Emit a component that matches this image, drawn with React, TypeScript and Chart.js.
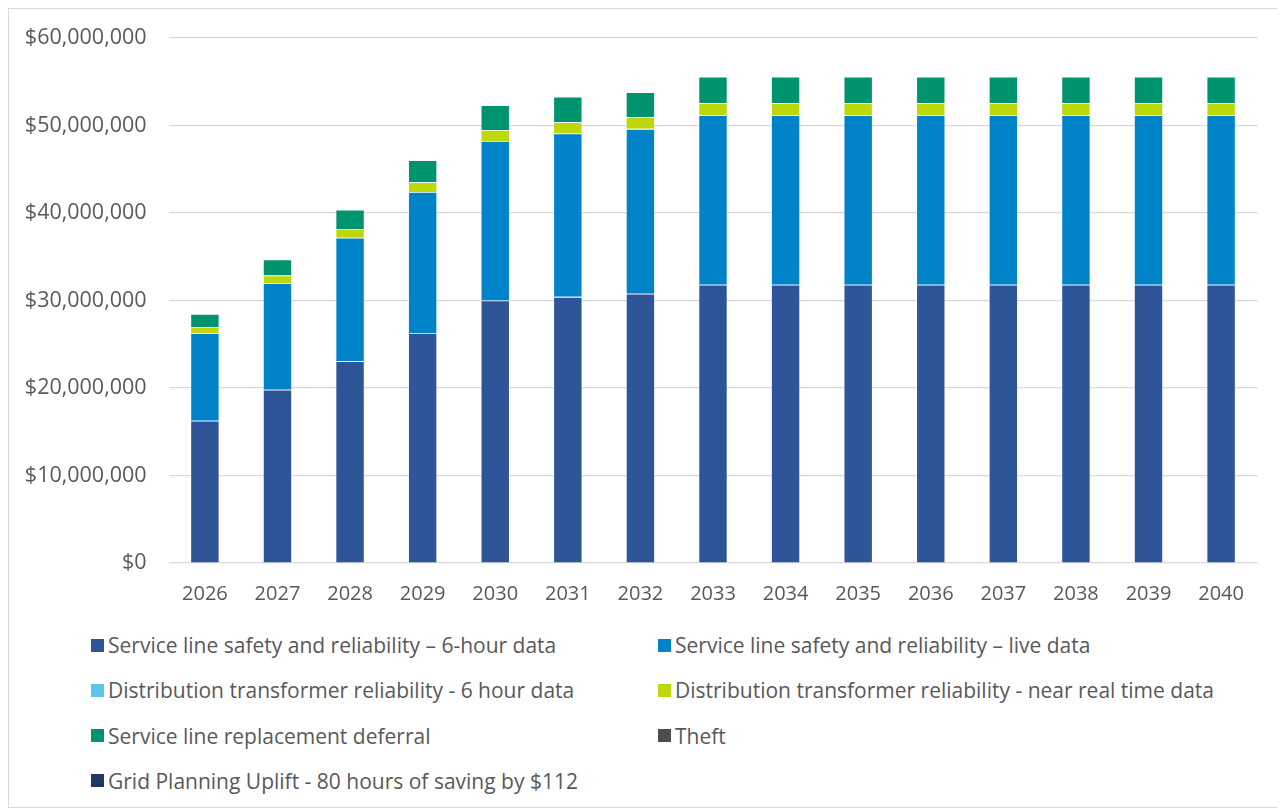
import React, { useEffect, useRef } from "react";
import { Chart, registerables } from "chart.js";

Chart.register(...registerables);

const years = ["2026","2027","2028","2029","2030","2031","2032","2033","2034","2035","2036","2037","2038","2039","2040"];

const serviceLine6h = [16.26, 19.81, 23.05, 26.3, 30.0, 30.42, 30.77, 31.8, 31.8, 31.8, 31.8, 31.8, 31.8, 31.8, 31.8].map(v => v * 1e6);
const serviceLineLive = [10.0, 12.17, 14.13, 16.1, 18.24, 18.66, 18.85, 19.38, 19.38, 19.38, 19.38, 19.38, 19.38, 19.38, 19.38].map(v => v * 1e6);
const transformer6h = [0, 0, 0, 0, 0, 0, 0, 0, 0, 0, 0, 0, 0, 0, 0];
const transformerNRT = [0.69, 0.88, 0.99, 1.11, 1.26, 1.3, 1.34, 1.38, 1.38, 1.38, 1.38, 1.38, 1.38, 1.38, 1.38].map(v => v * 1e6);
const replacementDeferral = [1.52, 1.84, 2.21, 2.52, 2.83, 2.9, 2.86, 3.01, 3.01, 3.01, 3.01, 3.01, 3.01, 3.01, 3.01].map(v => v * 1e6);
const theft = [0, 0, 0, 0, 0, 0, 0, 0, 0, 0, 0, 0, 0, 0, 0];
const gridPlanning = [0, 0, 0, 0, 0, 0, 0, 0, 0, 0, 0, 0, 0, 0, 0];

const seriesLabels = [
  "Service line safety and reliability \u2013 6-hour data",
  "Service line safety and reliability \u2013 live data",
  "Distribution transformer reliability - 6 hour data",
  "Distribution transformer reliability - near real time data",
  "Service line replacement deferral",
  "Theft",
  "Grid Planning Uplift - 80 hours of saving by $112",
];
const seriesColors = ["#2E5597", "#0083C9", "#5BC5EA", "#BCD80A", "#009370", "#4D4D4D", "#1F3864"];
const seriesData = [serviceLine6h, serviceLineLive, transformer6h, transformerNRT, replacementDeferral, theft, gridPlanning];

const FONT = "'Open Sans', sans-serif";
const TEXT = "#595959";

export default function App() {
  const ref = useRef<HTMLCanvasElement | null>(null);

  useEffect(() => {
    if (!ref.current) return;
    const chart = new Chart(ref.current, {
      type: "bar",
      data: {
        labels: years,
        datasets: seriesData.map((d, i) => ({
          label: seriesLabels[i],
          data: d,
          backgroundColor: seriesColors[i],
          borderColor: "rgba(255,255,255,0.35)",
          borderWidth: 0.8,
          categoryPercentage: 1,
          barPercentage: 0.4,
        })),
      },
      options: {
        animation: false,
        responsive: false,
        maintainAspectRatio: false,
        layout: { padding: { left: 0, right: 25.6, top: 29, bottom: 12 } },
        plugins: {
          legend: { display: false },
          tooltip: { enabled: false },
        },
        scales: {
          x: {
            stacked: true,
            grid: { display: false },
            border: { display: false },
            ticks: { color: TEXT, font: { family: FONT, size: 20 }, padding: 11 },
            afterFit: (s: any) => { s.height = 44; },
          },
          y: {
            stacked: true,
            min: 0,
            max: 60000000,
            grid: { color: "#D9D9D9", lineWidth: 1.2, drawTicks: true, tickLength: 22, tickColor: "rgba(0,0,0,0)" },
            border: { display: false },
            ticks: {
              stepSize: 10000000,
              color: TEXT,
              font: { family: FONT, size: 21.5 },
              padding: 0,
              callback: (v: any) => "$" + Number(v).toLocaleString("en-US"),
            },
            afterFit: (s: any) => { s.width = 159.6; },
          },
        },
      },
    });
    return () => chart.destroy();
  }, []);

  const legendRows: number[][] = [[0, 1], [2, 3], [4, 5], [6]];

  return (
    <div style={{ position: "relative", width: 1276, height: 800, border: "1px solid #D9D9D9", boxSizing: "border-box", background: "#fff", fontFamily: FONT }}>
      <canvas ref={ref} width={1274} height={610} style={{ position: "absolute", left: 0, top: 0 }} />
      {legendRows.map((row, r) => (
        row.map((idx, c) => (
          <div key={idx} style={{ position: "absolute", left: c === 0 ? 82 : 649, top: 622 + r * 45.3, height: 28, display: "flex", alignItems: "center", whiteSpace: "nowrap" }}>
            <span style={{ display: "inline-block", width: 13, height: 13, background: seriesColors[idx], marginRight: 4 }} />
            <span style={{ color: TEXT, fontSize: 21 }}>{seriesLabels[idx]}</span>
          </div>
        ))
      ))}
    </div>
  );
}
